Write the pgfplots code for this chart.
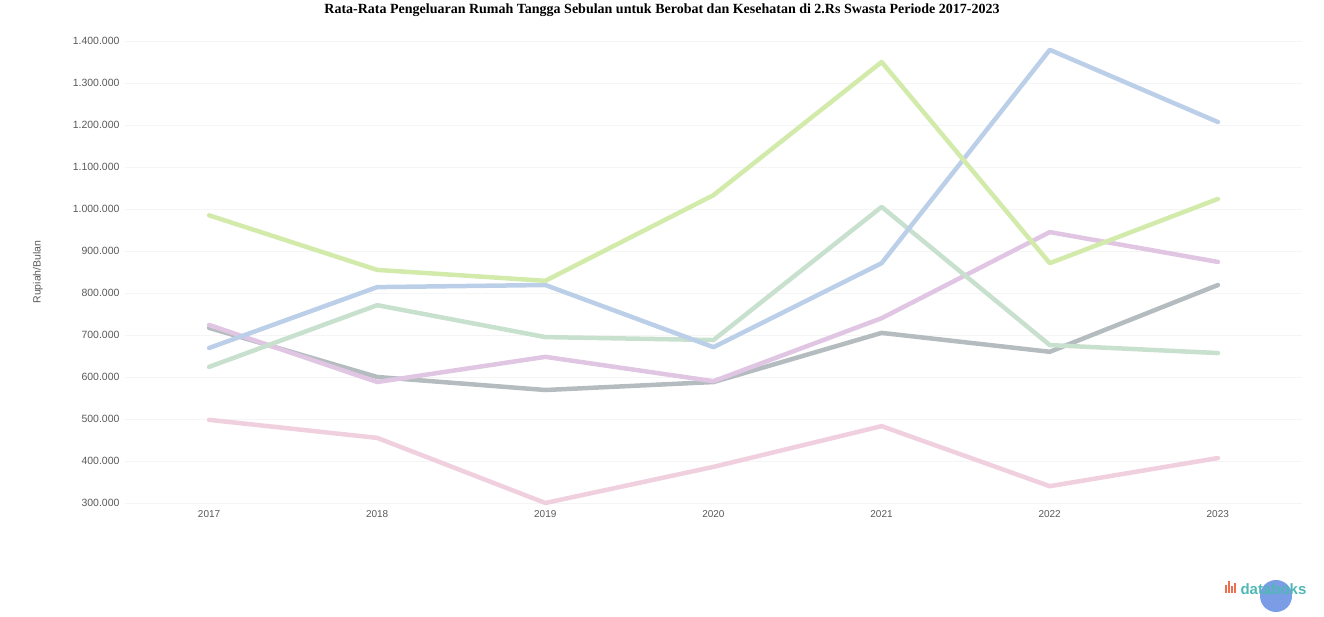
\documentclass[border=0pt]{standalone}
\usepackage{fontspec}
\setmainfont{Liberation Serif}
\newfontfamily\sans{Liberation Sans}
\usepackage{pgfplots}
\pgfplotsset{compat=1.18}

\definecolor{lime}{RGB}{210,235,170}
\definecolor{skyb}{RGB}{188,207,232}
\definecolor{sage}{RGB}{200,224,206}
\definecolor{lilac}{RGB}{225,198,228}
\definecolor{slate}{RGB}{180,188,192}
\definecolor{rose}{RGB}{240,208,222}
\definecolor{dbteal}{RGB}{80,184,180}
\definecolor{dborange}{RGB}{240,110,80}
\definecolor{dbblue}{RGB}{100,140,225}

\begin{document}
\begin{tikzpicture}
\begin{axis}[
    at={(0,0)}, anchor=south west,
    scale only axis,
    width=1177pt, height=462pt,
    xmin=2016.5, xmax=2023.5,
    ymin=300000, ymax=1400000,
    axis line style={draw=none},
    major tick style={draw=none},
    scaled y ticks=false,
    xtick={2017,...,2023},
    xticklabels={2017,2018,2019,2020,2021,2022,2023},
    ytick={300000,400000,...,1400000},
    yticklabels={300.000,400.000,500.000,600.000,700.000,800.000,900.000,1.000.000,1.100.000,1.200.000,1.300.000,1.400.000},
    xticklabel style={font=\sans\fontsize{10}{11}\selectfont, text=black!65, yshift=-4pt},
    yticklabel style={font=\sans\fontsize{10.5}{11}\selectfont, text=black!65, anchor=east, xshift=-2pt},
    ymajorgrids=true,
    grid style={gray!8, line width=0.8pt},
    every axis plot/.append style={line width=4.5pt, line join=round, line cap=round, mark=none},
    clip=false,
]
\addplot[rose] coordinates {(2017,498000) (2018,455000) (2019,300000) (2020,386000) (2021,483000) (2022,340000) (2023,407000)};
\addplot[slate] coordinates {(2017,717000) (2018,600000) (2019,569000) (2020,588000) (2021,705000) (2022,660000) (2023,819000)};
\addplot[lilac] coordinates {(2017,724000) (2018,588000) (2019,648000) (2020,590000) (2021,740000) (2022,945000) (2023,874000)};
\addplot[sage] coordinates {(2017,624000) (2018,771000) (2019,695000) (2020,688000) (2021,1005000) (2022,676000) (2023,657000)};
\addplot[skyb] coordinates {(2017,669000) (2018,814000) (2019,819000) (2020,671000) (2021,871000) (2022,1379000) (2023,1207000)};
\addplot[lime] coordinates {(2017,985000) (2018,855000) (2019,829000) (2020,1033000) (2021,1350000) (2022,871000) (2023,1024000)};
\end{axis}
\path[use as bounding box] (-125pt,-114pt) rectangle (1199pt,503pt);
\node[font=\bfseries\fontsize{14}{16}\selectfont, anchor=center] at (537pt,493pt)
  {Rata-Rata Pengeluaran Rumah Tangga Sebulan untuk Berobat dan Kesehatan di 2.Rs Swasta Periode 2017-2023};
\node[font=\sans\fontsize{10.5}{12}\selectfont, text=black!65, rotate=90] at (-87pt,231pt) {Rupiah/Bulan};
\fill[dbblue, opacity=0.85] (1151pt,-93pt) circle (16pt);
\node[font=\sans\bfseries\fontsize{15}{16}\selectfont, text=dbteal, anchor=west] at (1112pt,-86pt) {databoks};
\foreach \h/\dx in {8/0,12/3,7/6,10/9} {\fill[dborange] (1100pt+\dx pt,-90pt) rectangle ++(1.8pt,\h pt);}
\end{tikzpicture}
\end{document}
